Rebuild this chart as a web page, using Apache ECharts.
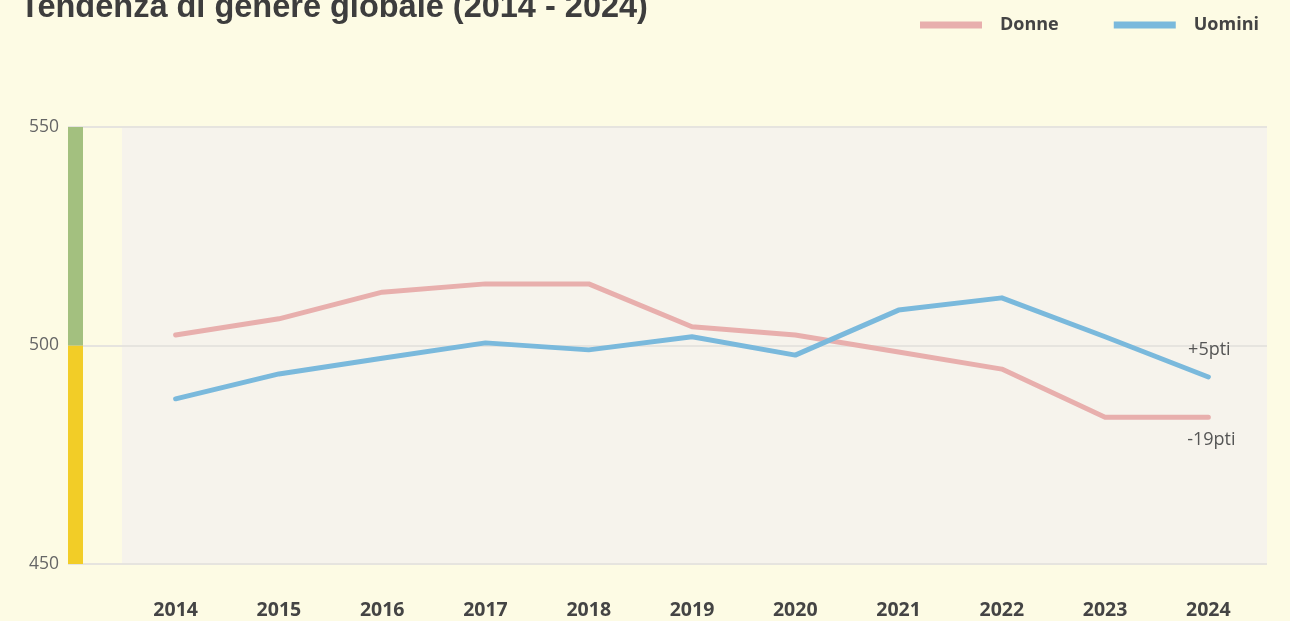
<!DOCTYPE html>
<html>
<head>
<meta charset="utf-8">
<script src="https://cdn.jsdelivr.net/npm/echarts@6/dist/echarts.min.js"></script>
<style>
  html, body { margin: 0; padding: 0; background: #fdfbe4; }
  #chart { width: 1290px; height: 621px; }
</style>
</head>
<body>
<div id="chart"></div>
<script>
// dati
var years = ['2014', '2015', '2016', '2017', '2018', '2019', '2020', '2021', '2022', '2023', '2024'];
var donne = [502.4, 506.1, 512.2, 514.1, 514.1, 504.3, 502.4, 498.5, 494.6, 483.6, 483.6];
var uomini = [487.8, 493.5, 497.1, 500.6, 499.0, 502.0, 497.8, 508.1, 510.9, 502.0, 492.8];
var yTicks = [450, 500, 550];
var deltaDonne = '-19pti';
var deltaUomini = '+5pti';
// fascia colorata a sinistra: giallo fino a 500, verde da 500 a 550
var bandLow = [500];
var bandHigh = [50];

var chart = echarts.init(document.getElementById('chart'));

var withEndLabel = function (values, text, pos, offset) {
  return values.map(function (v, i) {
    if (i !== values.length - 1) return v;
    return {
      value: v,
      label: {
        show: true, formatter: text, position: pos, offset: offset,
        color: '#555', fontSize: 18, fontFamily: 'Open Sans'
      }
    };
  });
};

var option = {
  backgroundColor: '#fdfbe4',
  animation: false,
  title: {
    text: 'Tendenza di genere globale (2014 - 2024)',
    left: 15,
    top: -13,
    textStyle: { fontSize: 32.5, fontWeight: 'bold', color: '#3d3d3d', fontFamily: 'Liberation Sans' }
  },
  legend: {
    data: ['Donne', 'Uomini'],
    right: 26,
    top: 11,
    icon: 'rect',
    itemWidth: 62,
    itemHeight: 7,
    itemGap: 55,
    textStyle: { fontSize: 18, fontWeight: 'bold', color: '#444', fontFamily: 'Open Sans', padding: [0, 0, 0, 13] }
  },
  grid: [
    { left: 124, right: 30, top: 127, bottom: 57 },
    { left: 122, right: 23, top: 127, bottom: 57, show: true, backgroundColor: '#f6f3ec', borderWidth: 0 },
    { left: 68, right: 23, top: 127, bottom: 57 },
    { left: 68, width: 15, top: 127, bottom: 57 }
  ],
  xAxis: [
    {
      gridIndex: 0, type: 'category', data: years, boundaryGap: true,
      axisLine: { show: false }, axisTick: { show: false },
      axisLabel: { margin: 36, fontSize: 19.5, fontWeight: 'bold', color: '#444', fontFamily: 'Open Sans' }
    },
    { gridIndex: 1, type: 'value', show: false },
    { gridIndex: 2, type: 'value', show: false },
    { gridIndex: 3, type: 'category', data: ['band'], show: false }
  ],
  yAxis: [
    { gridIndex: 0, type: 'value', min: yTicks[0], max: yTicks[2], show: false },
    { gridIndex: 1, type: 'value', show: false },
    {
      gridIndex: 2, type: 'value', min: yTicks[0], max: yTicks[2], interval: 50,
      axisLine: { show: false }, axisTick: { show: false },
      axisLabel: { margin: 9, fontSize: 17.5, color: '#666', fontFamily: 'Open Sans' },
      splitLine: { lineStyle: { color: '#e6e4df', width: 2 } }
    },
    { gridIndex: 3, type: 'value', min: yTicks[0], max: yTicks[2], show: false }
  ],
  series: [
    {
      name: 'Donne', type: 'line', xAxisIndex: 0, yAxisIndex: 0,
      data: withEndLabel(donne, deltaDonne, 'bottom', [3, 8]),
      showSymbol: true, symbol: 'circle', symbolSize: 1, z: 5,
      itemStyle: { color: '#e8afad' },
      lineStyle: { color: '#e8afad', width: 5, cap: 'round', join: 'round' }
    },
    {
      name: 'Uomini', type: 'line', xAxisIndex: 0, yAxisIndex: 0,
      data: withEndLabel(uomini, deltaUomini, 'top', [1, -13]),
      showSymbol: true, symbol: 'circle', symbolSize: 1, z: 6,
      itemStyle: { color: '#7ab9dc' },
      lineStyle: { color: '#7ab9dc', width: 5, cap: 'round', join: 'round' }
    },
    {
      type: 'bar', xAxisIndex: 3, yAxisIndex: 3, stack: 'band', barWidth: '100%',
      data: bandLow, itemStyle: { color: '#f2cd27' }, silent: true
    },
    {
      type: 'bar', xAxisIndex: 3, yAxisIndex: 3, stack: 'band', barWidth: '100%',
      data: bandHigh, itemStyle: { color: '#a3c07f' }, silent: true
    }
  ]
};

chart.setOption(option);
window.onresize = chart.resize;
</script>
</body>
</html>
